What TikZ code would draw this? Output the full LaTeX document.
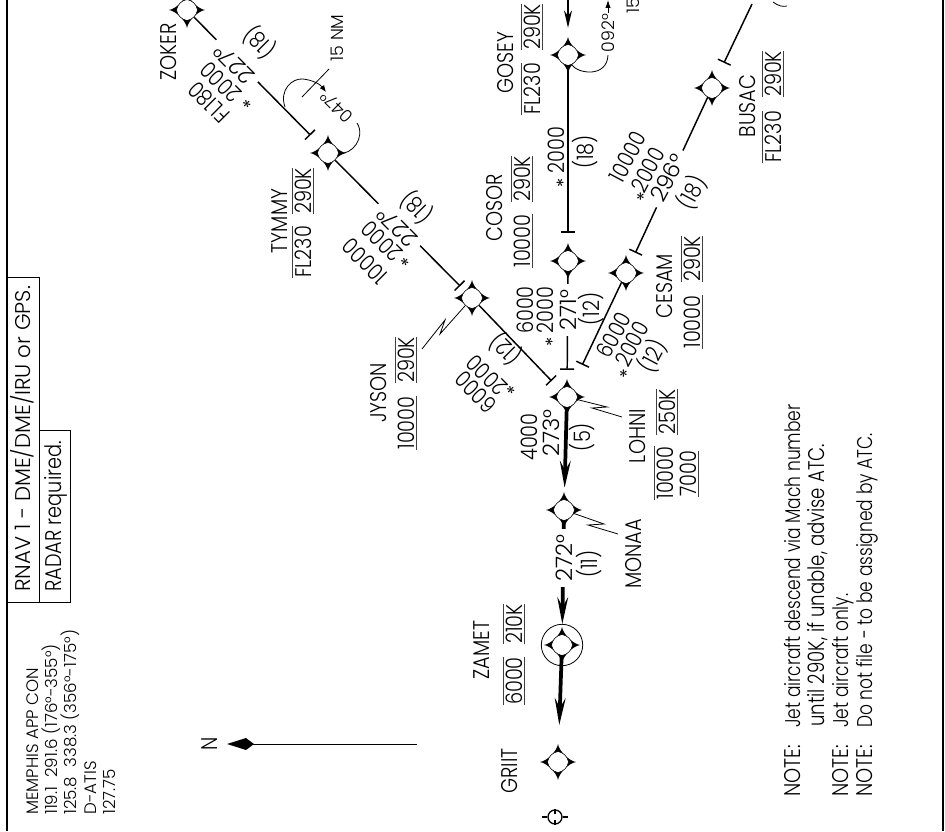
\documentclass[tikz,border=0pt]{standalone}
\usepackage{fontspec}
\setmainfont[FakeStretch=0.8,UprightFont=* Light]{Poppins}
\newfontfamily\wideface[FakeStretch=1.0,UprightFont=* Light]{Poppins}
\newfontfamily\capsface[FakeStretch=0.85,UprightFont=* Light]{Poppins}
\usetikzlibrary{arrows, arrows.meta}
\usetikzlibrary{positioning}
\usetikzlibrary{calc}
\tikzset{
	txt/.style={inner sep=0pt, text height=12pt, text depth=0pt, font=\capsface\fontsize{17}{18}\selectfont},
	rottxt/.style={txt, rotate=90},
	nwtxt/.style={txt, rotate=135},
	netxt/.style={txt, rotate=62},
	limit/.style={rottxt, inner ysep=1.8pt},
	crs/.style={txt, font=\wideface\fontsize{17}{18}\selectfont, fill=white, inner xsep=4.5pt},
	notetxt/.style={rottxt, anchor=west, font=\fontsize{16}{18}\selectfont},
	smalltxt/.style={inner sep=0pt, text height=9pt, text depth=0pt, font=\wideface\fontsize{13}{15}\selectfont},
	fixnode/.style={circle, inner sep=0pt, minimum size=15pt},
	leg/.style={line width=1.1pt},
	legbar/.style={leg, -{Bar[width=10.5pt,line width=1.1pt]}, shorten >=#1},
	heavy/.style={line width=2.8pt, -{Stealth[length=20pt,width=8pt,inset=7pt]}, shorten >=#1},
	thinln/.style={line width=0.6pt},
	barln/.style={line width=0.6pt, black!75},
}
\newcommand{\fixpt}[2]{
	\node[fixnode] (#1) at (#2) {};
	\begin{scope}[shift={(#2)}]
		\fill (18,0) .. controls (11,1) and (1,11) .. (0,18) .. controls (-1,11) and (-11,1) .. (-18,0) .. controls (-11,-1) and (-1,-11) .. (0,-18) .. controls (1,-11) and (11,-1) .. (18,0) -- cycle;
		\filldraw[fill=white, draw=black, line width=0.4pt] (10.5,0) .. controls (9.5,5.5) and (5.5,9.5) .. (0,10.5) .. controls (-5.5,9.5) and (-9.5,5.5) .. (-10.5,0) .. controls (-9.5,-5.5) and (-5.5,-9.5) .. (0,-10.5) .. controls (5.5,-9.5) and (9.5,-5.5) .. (10.5,0) -- cycle;
	\end{scope}
}
\newcommand{\barover}[1]{\draw[barln] (#1.north west) -- (#1.north east);}
\newcommand{\barunder}[1]{\draw[barln] (#1.south west) -- (#1.south east);}
\newcommand{\stmark}{{\fontsize{13}{14}\selectfont\boldmath$\ast$}}

\begin{document}
\begin{tikzpicture}[x=0.75pt,y=-0.75pt]
	\clip (0,0) rectangle (945,831);
	% frame and boxes
	\draw[line width=1.8pt] (7,0) -- (7,831);
	\draw[line width=1.8pt] (943,0) -- (943,831);
	\draw[thinln] (7,277) -- (39,277) -- (39,602);
	\draw[thinln] (39,430) -- (70,430) -- (70,602) -- (7,602);
	\node[rottxt, anchor=west, font=\wideface\fontsize{16}{18}\selectfont] (rnav) at (23,592) {RNAV 1 - DME/DME/IRU or GPS.};
	\node[rottxt, anchor=west] (radar) at (53,592) {RADAR required.};
	% comm block
	\node[rotate=90, anchor=north west, align=left, inner sep=0pt, font=\wideface\fontsize{12.5}{14.6}\selectfont] (comm) at (26,815) {MEMPHIS APP CON\\119.1~~291.6 (176°-355°)\\125.8~~338.3 (356°-175°)\\D-ATIS\\127.75};
	% north arrow
	\node[rottxt] (north) at (209,744) {N};
	\coordinate (ntail) at (417,744);
	\draw[line width=0.7pt] (ntail) -- (250,744);
	\fill (227,744) -- (246,738) -- (254,744) -- (246,750) -- cycle;
	% fixes
	\fixpt{ZOKER}{187,10}
	\fixpt{TYMMY}{328,153}
	\fixpt{JYSON}{472,298}
	\fixpt{LOHNI}{567,397}
	\fixpt{MONAA}{564,510}
	\fixpt{ZAMET}{562,645}
	\fixpt{GRIIT}{558,762}
	\fixpt{GOSEY}{568,55}
	\fixpt{COSOR}{568,261}
	\fixpt{BUSAC}{712,88}
	\fixpt{CESAM}{626,273}
	\draw[thinln] (ZAMET) circle (20.7);
	\node[circle, draw, line width=1pt, inner sep=0pt, minimum size=10.5pt] (endfix) at (555,817) {};
	\foreach \a in {0,90,180,270}
		\draw[line width=1pt] (endfix.\a) -- ++(\a:5);
	% legs
	\coordinate (gosin) at (568,-5);
	\coordinate (busout) at (752,4);
	\draw[leg, -{Stealth[length=13pt,width=6pt,inset=4pt]}, shorten >=12.7pt] (gosin) -- (GOSEY);
	\draw[legbar=11pt] (ZOKER) -- (TYMMY);
	\draw[legbar=4.9pt] (TYMMY) -- (JYSON);
	\draw[legbar=9pt] (JYSON) -- (LOHNI);
	\draw[legbar=13.5pt] (GOSEY) -- (COSOR);
	\draw[legbar=12.7pt] (COSOR) -- (LOHNI);
	\draw[legbar=13.2pt] (busout) -- (BUSAC);
	\draw[legbar=9pt] (BUSAC) -- (CESAM);
	\draw[legbar=19pt] (CESAM) -- (LOHNI);
	\draw[heavy=9pt] (LOHNI) -- (MONAA);
	\draw[heavy=8pt] (MONAA) -- (ZAMET);
	\draw[heavy=20pt] (ZAMET) -- (GRIIT);
	% holds
	\draw[thinln] (285,107) .. controls (279,90) and (292,78) .. (303,79);
	\draw[thinln, -{Latex[length=5pt,width=4pt]}] (303,79) .. controls (312,80) and (320,84) .. (326,92);
	\draw[thinln] (357,123) .. controls (366,137) and (352,156) .. (TYMMY.east);
	\draw[thinln] (GOSEY.290) .. controls (578,74) and (607,78) .. (608,55);
	\coordinate (gosarr) at (608,13);
	\coordinate (gosend) at (608,0);
	\draw[thinln, -{Latex[length=6pt,width=4pt]}] (gosarr) -- (gosend);
	\draw[thinln] (302,97) -- (329,69);
	\draw[thinln] (773,2) .. controls (778,6) and (783,7) .. (787,6);
	% leaders
	\coordinate (jyend) at (422,349);
	\coordinate (loend) at (622,417);
	\coordinate (moend) at (618,534);
	\draw[thinln] (JYSON) -- (440,334) -- (445,320) -- (jyend);
	\draw[thinln] (LOHNI) -- (607,407) -- (592,408) -- (loend);
	\draw[thinln] (MONAA) -- (604,524) -- (588,525) -- (moend);
	% hold labels
	\node[smalltxt, rotate=90] (tymdist) at (337,38) {15 NM};
	\node[smalltxt, rotate=135] (tymhold) at (337,107) {047°};
	\node[smalltxt, rotate=90] (goshold) at (608,33) {092°};
	\node[smalltxt, rotate=90, anchor=west] (gosdist) at (633,14) {15};
	% leg ZOKER TYMMY
	\node[crs, rotate=135] (zt1) at (234,64) {227°};
	\node[nwtxt] (zt2) at (221,82) {2000};
	\node[nwtxt] (zt3) at (209,102) {FL180};
	\node[nwtxt] (zt4) at (260,42) {(18)};
	\node[nwtxt] (zt5) at (244,107) {\stmark};
	% leg TYMMY JYSON
	\node[crs, rotate=135] (tj1) at (397,227) {227°};
	\node[nwtxt] (tj2) at (382,241) {2000};
	\node[nwtxt] (tj3) at (365,261) {10000};
	\node[nwtxt] (tj4) at (417,207) {(18)};
	\node[nwtxt] (tj5) at (402,265) {\stmark};
	% leg JYSON LOHNI
	\node[nwtxt] (jl2) at (487,375) {2000};
	\node[nwtxt] (jl3) at (476,392) {6000};
	\node[nwtxt] (jl4) at (506,349) {(12)};
	\node[nwtxt] (jl5) at (508,393) {\stmark};
	% leg GOSEY COSOR
	\node[rottxt] (gc2) at (556,150) {2000};
	\node[rottxt] (gc4) at (585,152) {(18)};
	\node[rottxt] (gc5) at (556,183) {\stmark};
	% leg COSOR LOHNI
	\node[crs, rotate=90] (cl1) at (568,310) {271°};
	\node[rottxt] (cl2) at (545,310) {2000};
	\node[rottxt] (cl3) at (525,310) {6000};
	\node[rottxt] (cl4) at (591,309) {(12)};
	\node[rottxt] (cl5) at (545,342) {\stmark};
	% leg BUSAC CESAM
	\node[crs, rotate=62] (bc1) at (668,178) {296°};
	\node[netxt] (bc2) at (648,170) {2000};
	\node[netxt] (bc3) at (628,157) {10000};
	\node[netxt] (bc4) at (692,193) {(18)};
	\node[netxt] (bc5) at (637,195) {\stmark};
	% leg CESAM LOHNI
	\node[netxt] (ce2) at (632,344) {2000};
	\node[netxt] (ce3) at (614,335) {6000};
	\node[netxt] (ce4) at (653,356) {(12)};
	\node[netxt] (ce5) at (620,372) {\stmark};
	% leg LOHNI MONAA
	\node[crs, rotate=90, fill=none, inner xsep=0pt] (lm1) at (551,433) {273°};
	\node[rottxt] (lm2) at (529,437) {4000};
	\node[rottxt] (lm4) at (582,437) {(5)};
	% leg MONAA ZAMET
	\node[crs, rotate=90] (mz1) at (564,558) {272°};
	\node[rottxt] (mz4) at (589,564) {(11)};
	% fix names
	\node[rottxt] (zokname) at (168,52) {ZOKER};
	\node[rottxt] (tymname) at (279,221) {TYMMY};
	\node[rottxt] (jysname) at (378,393) {JYSON};
	\node[rottxt] (gosname) at (505,63) {GOSEY};
	\node[rottxt] (cosname) at (494,208) {COSOR};
	\node[rottxt] (busname) at (747,106) {BUSAC};
	\node[rottxt] (cesname) at (664,286) {CESAM};
	\node[rottxt] (lohname) at (637,436) {LOHNI};
	\node[rottxt] (monname) at (633,554) {MONAA};
	\node[rottxt] (zamname) at (481,650) {ZAMET};
	\node[rottxt] (griname) at (509,771) {GRIIT};
	% altitude and speed limits
	\node[limit] (tymalt) at (303,252) {FL230};
	\node[limit] (tymspd) at (303,191) {290K};
	\barover{tymalt} \barover{tymspd} \barunder{tymspd}
	\node[limit] (jysalt) at (406,423) {10000};
	\node[limit] (jysspd) at (406,360) {290K};
	\barunder{jysalt} \barover{jysspd} \barunder{jysspd}
	\node[limit] (gosalt) at (532,89) {FL230};
	\node[limit] (gosspd) at (532,27) {290K};
	\barover{gosalt} \barover{gosspd} \barunder{gosspd}
	\node[limit] (cosalt) at (522,241) {10000};
	\node[limit] (cosspd) at (522,179) {290K};
	\barunder{cosalt} \barover{cosspd} \barunder{cosspd}
	\node[limit] (busalt) at (773,137) {FL230};
	\node[limit] (busspd) at (773,74) {290K};
	\barover{busalt} \barover{busspd} \barunder{busspd}
	\node[limit] (cesalt) at (692,322) {10000};
	\node[limit] (cesspd) at (692,259) {290K};
	\barunder{cesalt} \barover{cesspd} \barunder{cesspd}
	\node[limit] (lohalt) at (665,473) {10000};
	\node[limit] (lohspd) at (667,412) {250K};
	\node[limit] (lohlow) at (688,474) {7000};
	\barover{lohalt} \barover{lohspd} \barunder{lohspd} \barunder{lohlow}
	\node[limit] (zamalt) at (514,681) {6000};
	\node[limit] (zamspd) at (514,624) {210K};
	\barover{zamalt} \barunder{zamalt} \barover{zamspd} \barunder{zamspd}
	% notes
	\node[rottxt, anchor=west] (note1) at (792,797) {NOTE:};
	\node[notetxt] (note1a) at (792,728) {Jet aircraft descend via Mach number};
	\node[notetxt, font=\fontsize{17}{18}\selectfont] (note1b) at (816,727) {until 290K, if unable, advise ATC.};
	\node[rottxt, anchor=west] (note2) at (840,797) {NOTE:};
	\node[notetxt] (note2a) at (840,728) {Jet aircraft only.};
	\node[rottxt, anchor=west] (note3) at (864,797) {NOTE:};
	\node[notetxt] (note3a) at (864,728) {Do not file - to be assigned by ATC.};
\end{tikzpicture}
\end{document}
